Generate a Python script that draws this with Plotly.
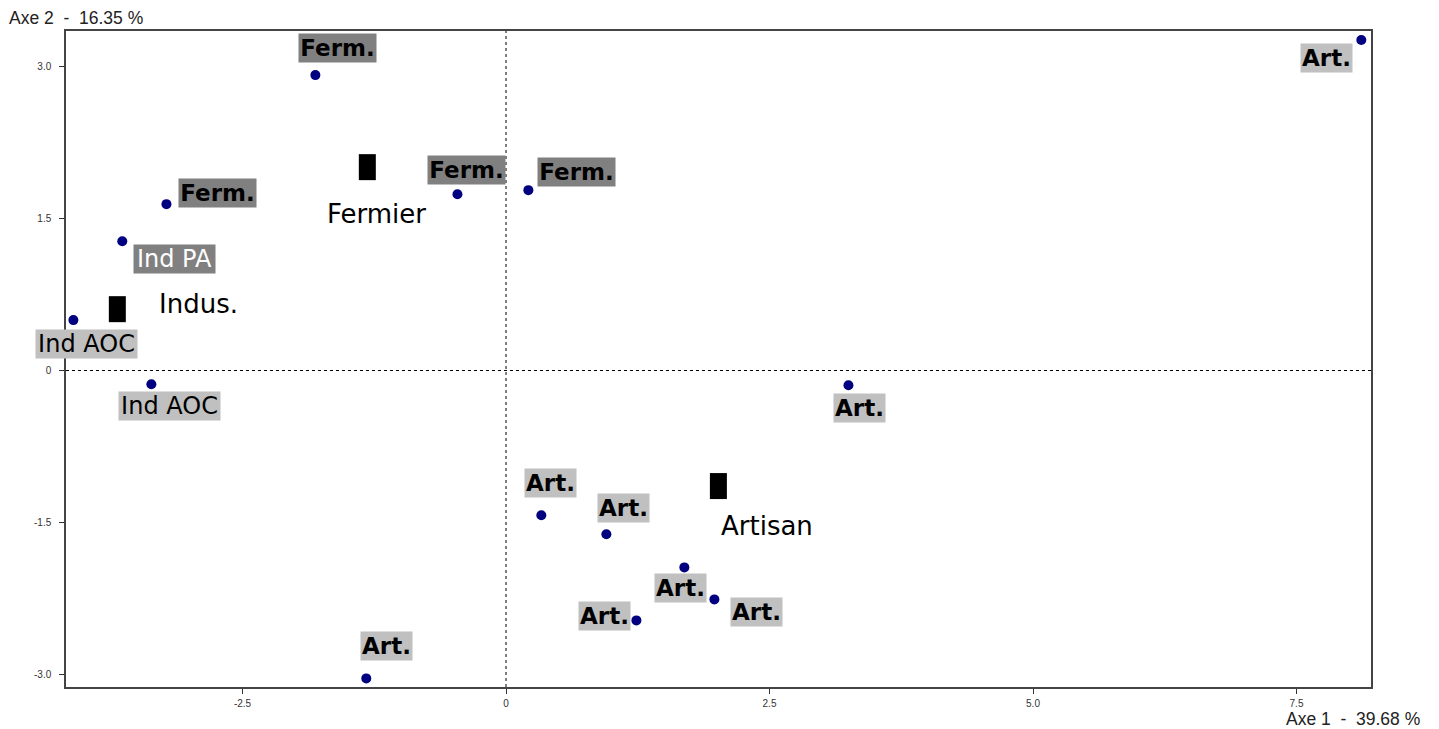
import plotly.graph_objects as go

# ---- data ----
point_x = [-1.809, -3.222, -0.461, 0.212, -3.641, -4.105, -3.365,
           8.115, 3.249, 0.335, 0.952, 1.692, 1.977, 1.237, -1.326]
point_y = [2.914, 1.641, 1.739, 1.779, 1.275, 0.497, -0.135,
           3.260, -0.145, -1.428, -1.616, -1.942, -2.258, -2.465, -3.037]
point_labels = ["Ferm.", "Ferm.", "Ferm.", "Ferm.", "Ind PA", "Ind AOC", "Ind AOC",
                "Art.", "Art.", "Art.", "Art.", "Art.", "Art.", "Art.", "Art."]

centroid_names = ["Fermier", "Indus.", "Artisan"]
centroid_x = [-1.316, -3.688, 2.015]
centroid_y = [2.006, 0.605, -1.140]

x_tick_vals = [-2.5, 0, 2.5, 5.0, 7.5]
x_tick_text = ["-2.5", "0", "2.5", "5.0", "7.5"]
y_tick_vals = [-3.0, -1.5, 0, 1.5, 3.0]
y_tick_text = ["-3.0", "-1.5", "0", "1.5", "3.0"]

x_title = "Axe 1  -  39.68 %"
y_title = "Axe 2  -  16.35 %"

# ---- label layout (pixel offsets of label boxes relative to points) ----
label_shift = [(22, 27), (51, 11), (9, 24), (48, 18), (52, -18), (13, -24), (18, -22),
               (-35, -18), (11, -23), (9, 32), (17, 26), (-4, -21), (42, -13), (-32, 4), (20, 32)]
centroid_shift = [(9, -47), (81, 5), (49, -40)]

styles = {
    "Ferm.": dict(bg="#808080", color="black", bold=True, size=23, width=77),
    "Art.": dict(bg="#c0c0c0", color="black", bold=True, size=23, width=51),
    "Ind PA": dict(bg="#808080", color="white", bold=False, size=24, width=81),
    "Ind AOC": dict(bg="#c0c0c0", color="black", bold=False, size=24, width=101),
}

fig = go.Figure()

fig.add_trace(go.Scatter(
    x=point_x, y=point_y, mode="markers",
    marker=dict(color="#000080", size=10),
    hoverinfo="skip", showlegend=False,
))

annotations = []
for x, y, lab, (dx, dy) in zip(point_x, point_y, point_labels, label_shift):
    st = styles[lab]
    txt = f"<b>{lab}</b>" if st["bold"] else lab
    annotations.append(dict(
        x=x, y=y, xref="x", yref="y", text=txt, showarrow=False,
        xshift=dx, yshift=dy, bgcolor=st["bg"], borderpad=0,
        width=st["width"], height=28, align="center",
        font=dict(family="DejaVu Sans", size=st["size"], color=st["color"]),
    ))

shapes = []
for x, y, name, (dx, dy) in zip(centroid_x, centroid_y, centroid_names, centroid_shift):
    shapes.append(dict(
        type="rect", xref="x", yref="y", xsizemode="pixel", ysizemode="pixel",
        xanchor=x, yanchor=y, x0=-8.5, x1=8.5, y0=-13, y1=13,
        fillcolor="black", line=dict(width=0),
    ))
    annotations.append(dict(
        x=x, y=y, xref="x", yref="y", text=name, showarrow=False,
        xshift=dx, yshift=dy,
        font=dict(family="DejaVu Sans", size=26, color="black"),
    ))

# dotted zero lines
shapes.append(dict(type="line", xref="x", yref="paper", x0=0, x1=0, y0=0, y1=1,
                   line=dict(color="black", width=1, dash="dot"), layer="below"))
shapes.append(dict(type="line", xref="paper", yref="y", x0=0, x1=1, y0=0, y1=0,
                   line=dict(color="black", width=1, dash="dot"), layer="below"))

# axis titles
annotations.append(dict(
    xref="paper", yref="paper", x=0, y=1, xanchor="left", yanchor="bottom",
    xshift=-59, yshift=1, text=y_title, showarrow=False,
    font=dict(family="Liberation Sans", size=17.5, color="#222"),
))
annotations.append(dict(
    xref="paper", yref="paper", x=1, y=0, xanchor="right", yanchor="top",
    xshift=51, yshift=-20, text=x_title, showarrow=False,
    font=dict(family="Liberation Sans", size=17.5, color="#222"),
))

fig.update_layout(
    width=1439, height=729,
    margin=dict(l=66, r=68, t=31, b=42),
    paper_bgcolor="white", plot_bgcolor="white",
    shapes=shapes, annotations=annotations,
    showlegend=False,
)
fig.update_xaxes(
    range=[-4.175, 8.207], showgrid=False, zeroline=False,
    tickvals=x_tick_vals, ticktext=x_tick_text,
    ticks="outside", ticklen=5, tickcolor="#333",
    tickfont=dict(family="Liberation Sans", size=10, color="#333"),
    ticklabelstandoff=1,
    showline=True, mirror=True, linecolor="#444", linewidth=1.5,
)
fig.update_yaxes(
    range=[-3.122, 3.349], showgrid=False, zeroline=False,
    tickvals=y_tick_vals, ticktext=y_tick_text,
    ticks="outside", ticklen=5, tickcolor="#333",
    tickfont=dict(family="Liberation Sans", size=10, color="#333"),
    ticklabelstandoff=6,
    showline=True, mirror=True, linecolor="#444", linewidth=1.5,
)

fig.write_html(
    "out.html",
    config={"displayModeBar": False},
    post_script="document.body.style.margin='0';document.body.style.overflow='hidden';",
)
